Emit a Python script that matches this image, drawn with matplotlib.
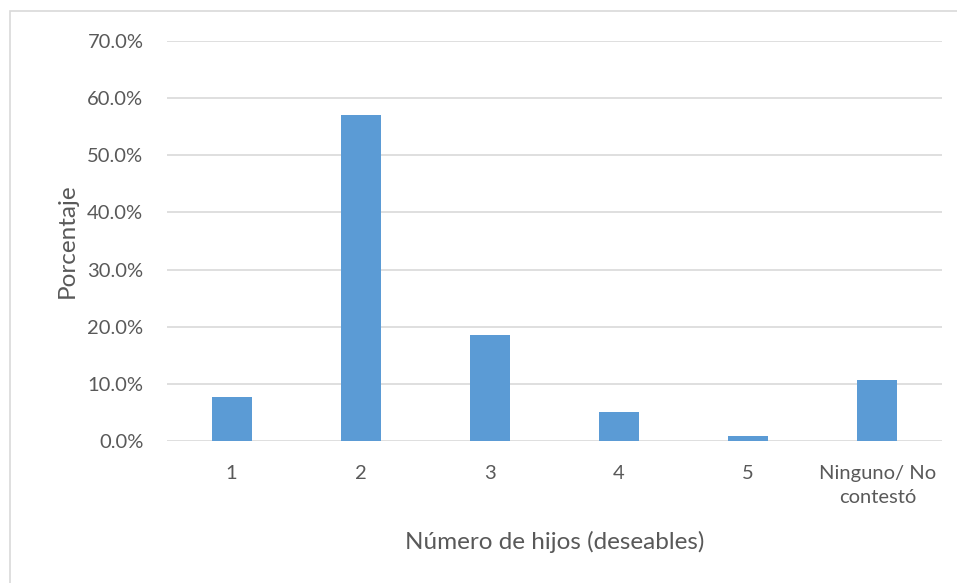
import matplotlib
matplotlib.use("Agg")
import matplotlib.pyplot as plt
from matplotlib.patches import Rectangle
from matplotlib.ticker import FuncFormatter

categories = ["1", "2", "3", "4", "5", "Ninguno/ No\ncontestó"]
porcentajes = [7.7, 57.1, 18.6, 5.0, 0.9, 10.6]
y_ticks = [0, 10, 20, 30, 40, 50, 60, 70]

plt.rcParams['font.family'] = ['Lato', 'DejaVu Sans']
text_color = '#595959'

fig = plt.figure(figsize=(9.57, 5.83), dpi=100)
ax = fig.add_axes([0.1745, 0.2436, 0.8098, 0.6861])

x = range(len(categories))
ax.bar(x, porcentajes, width=0.31, color='#5b9bd5', zorder=3)

ax.set_xlim(-0.5, len(categories) - 0.5)
ax.set_ylim(0, 70)
ax.set_yticks(y_ticks)
ax.yaxis.set_major_formatter(FuncFormatter(lambda v, p: f"{v:.1f}%"))
ax.set_xticks(list(x))
ax.set_xticklabels(categories, linespacing=1.5)

ax.grid(axis='y', color='#d9d9d9', linewidth=1.2, zorder=0)
for s in ax.spines.values():
    s.set_visible(False)
ax.tick_params(axis='both', length=0, labelsize=14.5, colors=text_color)
ax.tick_params(axis='y', pad=17)
ax.tick_params(axis='x', pad=17.5)

ax.set_ylabel("Porcentaje", fontsize=17.5, color=text_color, labelpad=7)
ax.set_xlabel("Número de hijos (deseables)", fontsize=17.5, color=text_color, labelpad=18)

# chart area border (partly cut at right/bottom)
fig.patches.append(Rectangle((10 / 957, -0.1), 1.2, 1 - 11 / 583 + 0.1,
                             transform=fig.transFigure, fill=False,
                             edgecolor='#d9d9d9', linewidth=1.2))

fig.savefig("out.png", dpi=100)
